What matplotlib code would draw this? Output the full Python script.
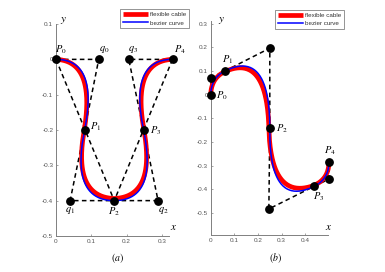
import numpy as np
import matplotlib
matplotlib.use("Agg")
import matplotlib.pyplot as plt

plt.rcParams['mathtext.fontset'] = 'stix'
plt.rcParams['font.family'] = ['Liberation Sans', 'DejaVu Sans']

# ---------------- data: panel (a) ----------------
a_anchor_names = ["P_0", "P_1", "P_2", "P_3", "P_4"]
a_anchor_x = [0.0, 0.081, 0.165, 0.248, 0.33]
a_anchor_y = [0.0, -0.2, -0.4, -0.2, 0.0]
a_ctrl_names = ["q_0", "q_1", "q_2", "q_3"]
a_ctrl_x = [0.121, 0.040, 0.289, 0.206]
a_ctrl_y = [0.0, -0.4, -0.4, 0.0]
# cable shape (control polygon)
a_cable_anchor_x = [0.0, 0.080, 0.165, 0.249, 0.33]
a_cable_anchor_y = [0.0, -0.2, -0.394, -0.2, 0.0]
a_cable_ctrl_x = [0.112, 0.046, 0.283, 0.214]
a_cable_ctrl_y = [-0.004, -0.39, -0.39, -0.004]
# extra chords
a_chords = [(0, 2), (4, 2)]

# ---------------- data: panel (b) ----------------
b_anchor_names = ["P_0", "P_1", "P_2", "P_3", "P_4"]
b_anchor_x = [0.0, 0.059, 0.25, 0.438, 0.5]
b_anchor_y = [0.0, 0.100, -0.142, -0.387, -0.285]
b_ctrl_x = [0.002, 0.25, 0.246, 0.5]
b_ctrl_y = [0.072, 0.197, -0.483, -0.357]
b_cable_anchor_x = [0.0, 0.058, 0.246, 0.438, 0.5]
b_cable_anchor_y = [0.0, 0.097, -0.142, -0.383, -0.285]
b_cable_ctrl_x = [0.002, 0.238, 0.254, 0.5]
b_cable_ctrl_y = [0.070, 0.180, -0.452, -0.355]

a_xticks = [0, 0.1, 0.2, 0.3]
a_yticks = [0.1, 0, -0.1, -0.2, -0.3, -0.4, -0.5]
b_xticks = [0, 0.1, 0.2, 0.3, 0.4]
b_yticks = [0.3, 0.2, 0.1, 0, -0.1, -0.2, -0.3, -0.4, -0.5]

legend_labels = ["flexible cable", "bezier curve"]

# label offsets (pixels) for annotations
a_anchor_off = [(5, 10), (11, 3), (0, -11), (12, -1), (7, 10)]
a_ctrl_off = [(6, 10), (0, -10), (5, -10), (4, 10)]
b_anchor_off = [(11, -1), (3, 11), (12, 0), (4, -10), (1, 11)]


def quad_chain(ax_, ay_, cx_, cy_, n=80):
    t = np.linspace(0, 1, n)
    xs, ys = [], []
    for i in range(len(cx_)):
        x = (1 - t) ** 2 * ax_[i] + 2 * t * (1 - t) * cx_[i] + t ** 2 * ax_[i + 1]
        y = (1 - t) ** 2 * ay_[i] + 2 * t * (1 - t) * cy_[i] + t ** 2 * ay_[i + 1]
        xs.append(x)
        ys.append(y)
    return np.concatenate(xs), np.concatenate(ys)


def polygon(ax_, ay_, cx_, cy_):
    px, py = [], []
    for i in range(len(cx_)):
        px += [ax_[i], cx_[i]]
        py += [ay_[i], cy_[i]]
    px.append(ax_[-1])
    py.append(ay_[-1])
    return px, py


fig = plt.figure(figsize=(3.85, 2.72), dpi=100)
W, H = 385.0, 272.0
axA = fig.add_axes([56 / W, 36 / H, 113 / W, 212 / H])
axB = fig.add_axes([210.7 / W, 36.3 / H, 117.5 / W, 214.5 / H])

spine_col = "#808080"
tick_col = "#555555"
PX = 0.72  # points per pixel


def style(ax, xlim, ylim, xt, yt):
    ax.set_xlim(*xlim)
    ax.set_ylim(*ylim)
    ax.set_aspect('equal', adjustable='box')
    for s in ["top", "right"]:
        ax.spines[s].set_visible(False)
    for s in ["left", "bottom"]:
        ax.spines[s].set_color(spine_col)
        ax.spines[s].set_linewidth(0.7)
    ax.set_xticks(xt)
    ax.set_yticks(yt)
    ax.set_xticklabels([("%g" % v) for v in xt])
    ax.set_yticklabels([("%g" % v) for v in yt])
    ax.tick_params(direction='in', length=1.6, width=0.5, colors=spine_col,
                   labelcolor=tick_col, labelsize=4.6, pad=2)
    ax.patch.set_alpha(0)


def draw(ax, anx, any_, cnx, cny, cax, cay, ccx, ccy):
    px, py = polygon(anx, any_, cnx, cny)
    ax.plot(px, py, ls=(0, (3, 2.2)), color='black', lw=1.1, zorder=2, clip_on=False)
    rx, ry = quad_chain(cax, cay, ccx, ccy)
    ax.plot(rx, ry, color='#ff0000', lw=3.4, solid_capstyle='butt', zorder=3,
            clip_on=False, label=legend_labels[0])
    bx, by = quad_chain(anx, any_, cnx, cny)
    ax.plot(bx, by, color='#0000ff', lw=1.1, zorder=4, clip_on=False,
            label=legend_labels[1])
    ax.plot(anx, any_, 'o', color='black', ms=5.3, zorder=5, clip_on=False)
    ax.plot(cnx, cny, 'o', color='black', ms=5.3, zorder=5, clip_on=False)


# ---- panel (a) ----
style(axA, (0, 0.32), (-0.5, 0.1), a_xticks, a_yticks)
for i, j in a_chords:
    axA.plot([a_anchor_x[i], a_anchor_x[j]], [a_anchor_y[i], a_anchor_y[j]],
             ls=(0, (3, 2.2)), color='black', lw=1.1, zorder=2, clip_on=False)
draw(axA, a_anchor_x, a_anchor_y, a_ctrl_x, a_ctrl_y,
     a_cable_anchor_x, a_cable_anchor_y, a_cable_ctrl_x, a_cable_ctrl_y)
for nm, x, y, (dx, dy) in zip(a_anchor_names, a_anchor_x, a_anchor_y, a_anchor_off):
    axA.annotate("$%s$" % nm, (x, y), xytext=(dx * PX, dy * PX), textcoords='offset points',
                 ha='center', va='center', fontsize=7.5, zorder=6, annotation_clip=False)
for nm, x, y, (dx, dy) in zip(a_ctrl_names, a_ctrl_x, a_ctrl_y, a_ctrl_off):
    axA.annotate("$%s$" % nm, (x, y), xytext=(dx * PX, dy * PX), textcoords='offset points',
                 ha='center', va='center', fontsize=7.5, zorder=6, annotation_clip=False)

# ---- panel (b) ----
style(axB, (0, 0.497), (-0.595, 0.31), b_xticks, b_yticks)
draw(axB, b_anchor_x, b_anchor_y, b_ctrl_x, b_ctrl_y,
     b_cable_anchor_x, b_cable_anchor_y, b_cable_ctrl_x, b_cable_ctrl_y)
for nm, x, y, (dx, dy) in zip(b_anchor_names, b_anchor_x, b_anchor_y, b_anchor_off):
    axB.annotate("$%s$" % nm, (x, y), xytext=(dx * PX, dy * PX), textcoords='offset points',
                 ha='center', va='center', fontsize=7.5, zorder=6, annotation_clip=False)

# axis letters and captions
def ftext(x, y, s, **kw):
    fig.text(x / W, 1 - y / H, s, ha='center', va='center', **kw)

ftext(63.5, 20.5, "$y$", fontsize=8)
ftext(173.5, 226.5, "$x$", fontsize=8)
ftext(221.5, 21, "$y$", fontsize=8)
ftext(328.5, 226.5, "$x$", fontsize=8)
ftext(117.5, 258.5, "$(a)$", fontsize=7)
ftext(275, 258.5, "$(b)$", fontsize=7)

for ax, (lx, ly) in [(axA, (120, 9.3)), (axB, (275, 10))]:
    leg = ax.legend(loc='upper left', bbox_to_anchor=(lx / W, 1 - ly / H),
                    bbox_transform=fig.transFigure, fontsize=4.5, frameon=True,
                    fancybox=False, handlelength=4.1, handletextpad=0.25,
                    borderpad=0.45, labelspacing=0.45, borderaxespad=0)
    leg.get_frame().set_edgecolor('#444444')
    leg.get_frame().set_linewidth(0.5)
    for t in leg.get_texts():
        t.set_color('#333333')

fig.savefig("out.png", dpi=100)
